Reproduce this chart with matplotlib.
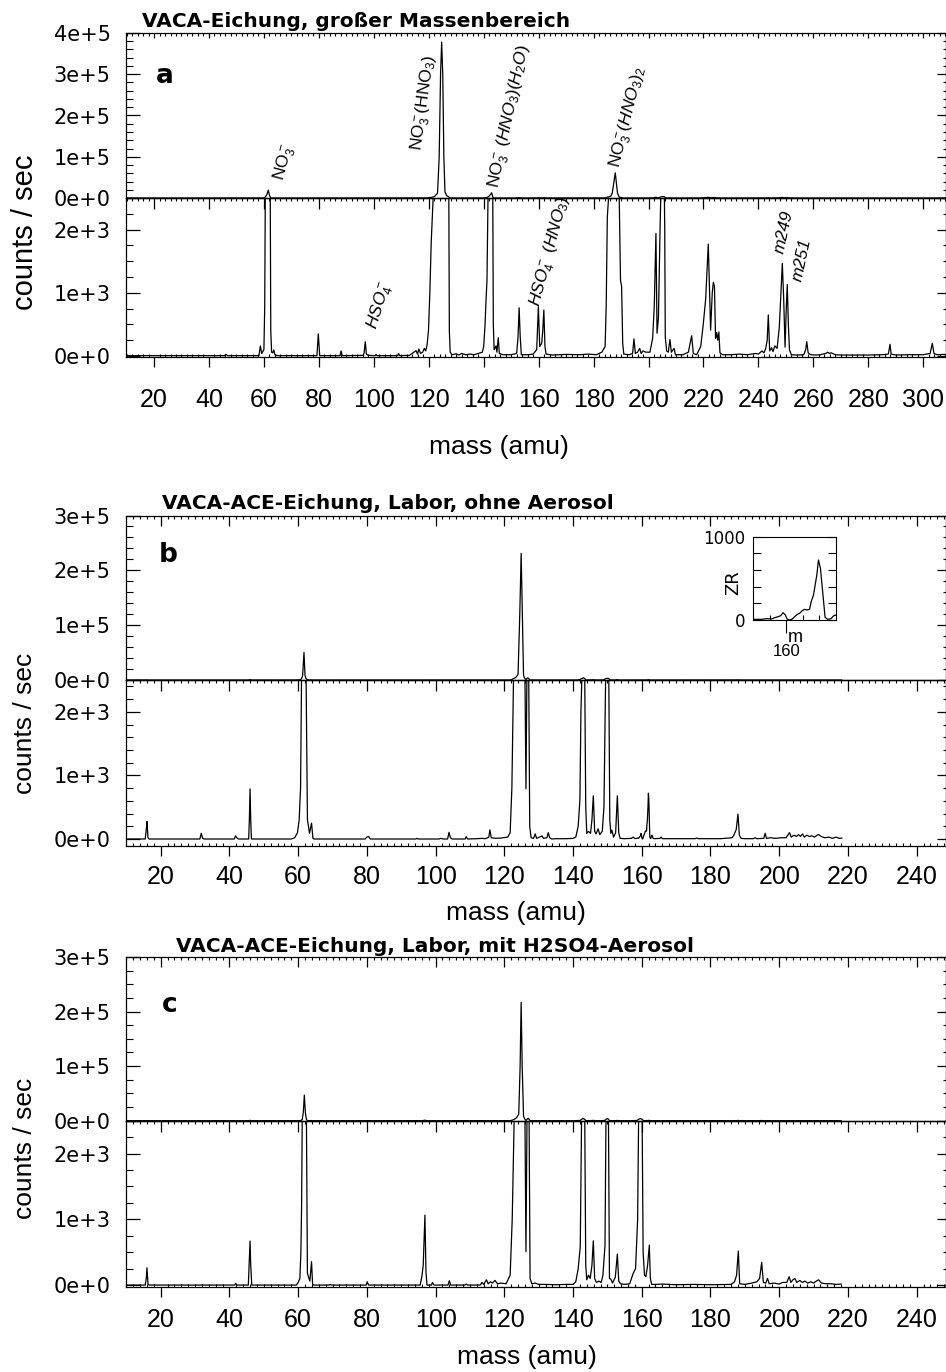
import numpy as np
import matplotlib
matplotlib.use('Agg')
import matplotlib.pyplot as plt
from matplotlib.ticker import MultipleLocator, FixedLocator, FuncFormatter, NullFormatter

plt.rcParams['font.family'] = 'DejaVu Sans'
plt.rcParams['mathtext.fontset'] = 'custom'
plt.rcParams['mathtext.rm'] = 'Liberation Sans'
plt.rcParams['mathtext.it'] = 'Liberation Sans:italic'
plt.rcParams['mathtext.bf'] = 'Liberation Sans:bold'

# ---- spectra (mass in amu, counts / sec) ----
a_mass = [10, 45.6, 46.2, 46.8, 58.2, 58.7, 59.2, 60.0, 60.3, 60.5, 61.0, 61.6, 62.0, 62.3, 62.5, 62.8,
          63.2, 63.6, 64.0, 65, 79.3, 79.8, 80.3, 87.7, 88.1, 88.5, 96.2, 96.5, 96.9, 97.3, 98.0,
          100.5, 100.8, 101.2, 108.7, 109.0, 109.4, 113, 115.4, 115.9, 116.4, 117.0, 117.8, 118.4,
          118.9, 119.4, 119.9, 120.4, 120.9, 121.7, 122.3, 123.2, 123.8, 124.3, 124.7, 125.1, 125.5,
          125.9, 126.5, 127.3, 127.5, 127.8, 128.5, 130.0, 131.0, 132.0, 133.5, 135.0, 136.5, 138.0,
          139.5, 140.0, 140.5, 140.8, 141.2, 141.6, 142.2, 142.9, 143.3, 143.5, 143.8, 144.5, 144.8,
          145.3, 145.7, 147.0, 150.0, 152.0, 152.5, 152.9, 153.3, 153.7, 156.0, 158.0, 159.3, 159.9,
          160.4, 161.1, 161.5, 161.9, 162.3, 162.7, 165, 170, 175, 178, 181, 183, 184.2, 184.6,
          185.0, 185.6, 186.3, 186.8, 187.9, 188.7, 189.3, 189.8, 190.2, 190.6, 191.0, 193.0, 194.2,
          194.7, 195.2, 196.0, 196.8, 197.3, 198.0, 198.7, 199.3, 200.5, 201.5, 202.1, 202.7, 203.1,
          203.6, 204.2, 204.7, 205.2, 205.6, 205.9, 206.1, 206.6, 207.2, 207.8, 208.3, 209.3, 209.8,
          211, 212.5, 214.5, 215.7, 216.3, 217.5, 219.0, 219.9, 220.8, 221.75, 222.6, 223.2, 223.6,
          224.0, 224.4, 224.8, 225.2, 225.6, 226.0, 227, 230, 233, 236, 239, 240.0, 241.3, 242.0,
          242.6, 243.2, 243.6, 244.1, 244.8, 245.3, 246.0, 246.8, 247.6, 248.2, 248.7, 249.2, 249.7,
          250.1, 250.5, 250.9, 251.3, 252.0, 254, 256.5, 257.2, 257.6, 258.1, 259, 261, 262.5, 264.5,
          265.2, 265.8, 266.5, 268, 270, 275, 280, 285, 287.3, 287.9, 288.3, 290, 295, 300, 302.5,
          303.3, 303.9, 305, 307.5, 309]
a_counts = [5, 5, 25, 5, 5, 160, 40, 100, 800, 2600, 7000, 19000, 7000, 2600, 400, 60,
            50, 95, 20, 5, 5, 350, 5, 5, 80, 5, 10, 60, 226, 30, 10,
            5, 25, 5, 5, 40, 5, 10, 85, 30, 110, 40, 60, 120,
            80, 175, 400, 1000, 1800, 2600, 5000, 12000, 100000, 300000, 378000, 300000, 100000,
            15000, 6000, 2600, 400, 60, 20, 35, 15, 40, 20, 30, 20, 40,
            60, 150, 500, 830, 1200, 2600, 6000, 12800, 2600, 500, 100, 160, 60,
            290, 40, 20, 20, 40, 300, 763, 300, 20, 20, 30, 100, 780,
            150, 200, 400, 727, 150, 30, 15, 25, 20, 30, 20, 60, 150, 800,
            2200, 2600, 5000, 12000, 61000, 12000, 2600, 1200, 1100, 200, 30, 20, 40,
            270, 40, 60, 120, 40, 80, 65, 60, 60, 280, 800, 1940, 360,
            600, 2000, 3000, 3500, 3300, 2000, 300, 80, 60, 260, 60, 120, 20,
            20, 20, 60, 320, 40, 20, 150, 490, 900, 1770, 410, 1000, 1165,
            1100, 280, 370, 250, 380, 50, 20, 20, 30, 20, 40, 30, 80, 50,
            110, 250, 650, 80, 130, 70, 160, 120, 450, 1000, 1465, 900, 140,
            700, 1130, 500, 100, 20, 15, 20, 100, 227, 50, 20, 15, 20, 40,
            60, 40, 50, 20, 15, 15, 15, 20, 30, 185, 30, 15, 20, 20, 40,
            200, 40, 20, 25, 20]

b_mass = [10, 15.5, 15.8, 16.0, 16.3, 16.6, 31.4, 31.8, 32.2, 32.6, 41.4, 41.8, 42.3, 42.7, 45.6,
          45.8, 46.0, 46.2, 46.4, 58.0, 59.0, 59.8, 60.3, 60.7, 61.0, 61.3, 61.7, 62.0, 62.3, 62.7,
          63.3, 63.9, 64.3, 64.7, 79.5, 80.0, 80.5, 81.0, 94.3, 94.5, 95.0, 101.0, 101.5, 102.2,
          103.5, 103.9, 104.3, 104.8, 108.6, 108.9, 109.3, 112.0, 113.5, 114.5, 115.5, 115.8, 116.2,
          117.5, 119.0, 121.0, 121.7, 122.2, 122.7, 123.3, 124.0, 124.5, 124.9, 125.3, 125.6, 126.0,
          126.3, 126.6, 126.8, 127.1, 127.4, 127.8, 128.5, 129.0, 129.4, 131.0, 131.4, 132.4, 132.8,
          133.2, 133.8, 135.0, 138.0, 140.0, 140.8, 141.5, 142.0, 142.3, 142.6, 143.0, 143.4, 143.7,
          144.0, 144.5, 145.1, 145.5, 145.9, 146.3, 146.7, 147.3, 147.8, 148.5, 149.0, 149.5, 150.0,
          150.4, 150.7, 151.0, 151.3, 151.8, 152.4, 152.9, 153.3, 153.7, 155.0, 157.0, 157.5,
          158.0, 158.5, 158.8, 159.1, 159.3, 159.5, 159.66, 159.8, 159.94, 160.04, 160.2, 160.36,
          160.5, 160.66, 160.8, 160.96, 161.1, 161.24, 161.4, 161.5, 161.64, 161.76, 161.84, 161.94,
          162.06, 162.2, 162.34, 162.5, 162.7, 162.84, 162.96, 163.3, 163.8, 165.3, 165.6, 166.0,
          170, 175.5, 176.0, 176.5, 183.0, 186.3, 186.8, 187.5, 188.0, 188.4, 188.9, 190.0, 192.5,
          193.0, 193.5, 195.5, 195.9, 196.3, 197.5, 199.0, 200.5, 202.0, 203.0, 203.5, 204.3, 205.0,
          205.6, 206.2, 206.8, 207.3, 208.0, 208.8, 209.5, 210.3, 211.0, 211.5, 212.2, 213.3, 214.5,
          215.5, 216.5, 217.5, 218.2]
b_counts = [0, 0, 150, 275, 20, 0, 0, 90, 10, 0, 0, 48, 10, 0, 0,
            300, 788, 300, 0, 0, 20, 100, 300, 800, 2600, 8000, 50300, 8000, 2600, 310,
            90, 250, 10, 0, 0, 30, 40, 0, 0, 10, 0, 0, 10, 0,
            0, 105, 20, 0, 0, 37, 0, 5, 10, 5, 30, 143, 20,
            10, 15, 30, 100, 800, 2600, 4500, 10000, 120000, 231000, 100000, 8000, 2600,
            790, 2600, 4000, 2600, 200, 20, 10, 80, 10, 48, 10, 20, 100,
            20, 0, 5, 5, 10, 30, 200, 620, 2000, 2600, 4200, 2600, 500,
            90, 120, 90, 300, 680, 120, 80, 160, 70, 120, 500, 2600, 3000,
            2600, 300, 90, 140, 30, 100, 680, 100, 10, 5, 10, 30,
            8, 8, 16, 12, 28, 40, 52, 88, 60, 12, 0, 12,
            40, 68, 80, 112, 128, 120, 128, 220, 300, 440, 540, 720,
            620, 320, 32, 8, 16, 48, 60, 10, 5, 10, 30, 5,
            5, 5, 15, 5, 5, 20, 60, 150, 392, 60, 10, 5, 5,
            20, 5, 10, 90, 10, 20, 10, 20, 20, 100, 30, 60, 40,
            70, 40, 80, 30, 60, 40, 50, 30, 60, 70, 40, 20, 30,
            10, 30, 10, 15]

c_mass = [10, 15.5, 15.8, 16.0, 16.3, 16.6, 41.5, 41.8, 42.2, 45.5, 45.8, 46.0, 46.2, 46.5, 59.5,
          60.0, 60.5, 60.8, 61.0, 61.2, 61.5, 61.8, 62.1, 62.4, 62.7, 63.4, 63.9, 64.2, 64.5, 69.0,
          69.3, 69.7, 79.8, 80.1, 80.5, 95.5, 96.0, 96.4, 96.9, 97.2, 97.5, 98.8, 99.1, 99.5, 103.6,
          104.0, 104.4, 108.5, 108.9, 109.3, 113.0, 113.5, 114.0, 114.8, 115.3, 116.0, 116.5, 117.3,
          118.0, 119.0, 120.5, 121.7, 122.3, 122.9, 123.5, 124.2, 124.6, 124.9, 125.2, 125.6, 126.0,
          126.3, 126.6, 126.9, 127.2, 127.5, 128.0, 129.0, 130.0, 132.0, 135.0, 138.0, 140.0, 140.8,
          141.5, 142.1, 142.5, 142.9, 143.4, 143.7, 144.0, 144.5, 145.0, 145.5, 145.9, 146.3, 146.8,
          147.5, 148.2, 148.7, 149.3, 149.6, 150.0, 150.3, 150.6, 151.0, 151.5, 152.3, 152.9, 153.3,
          153.8, 155.0, 156.5, 157.5, 158.2, 158.8, 159.1, 159.6, 160.1, 160.4, 160.8, 161.2, 161.7,
          162.2, 162.5, 162.9, 164.0, 166.0, 170.0, 175.0, 180.0, 186.0, 187.0, 187.6, 188.1, 188.5,
          190.0, 192.0, 193.5, 194.3, 194.9, 195.4, 196.1, 196.6, 197.1, 198.5, 200.0, 201.0, 202.2,
          202.9, 203.4, 204.0, 204.6, 205.1, 206.0, 206.7, 207.5, 208.3, 209.2, 210.0, 210.8, 211.5,
          212.3, 213.5, 215.0, 216.5, 218.0]
c_counts = [0, 0, 100, 263, 20, 0, 0, 25, 0, 0, 400, 669, 300, 0, 0,
            40, 100, 500, 1190, 2600, 15000, 47000, 15000, 2600, 177, 60, 355, 10, 0, 0,
            10, 0, 0, 50, 0, 0, 127, 300, 1064, 200, 0, 0, 40, 0, 0,
            66, 0, 0, 15, 0, 0, 40, 10, 80, 20, 50, 30, 70,
            20, 30, 20, 150, 1000, 2600, 5000, 12000, 100000, 217000, 100000, 8000, 2600,
            507, 2600, 4500, 2600, 100, 20, 30, 10, 10, 5, 10, 10, 50,
            250, 580, 2600, 4000, 2600, 300, 80, 150, 100, 300, 673, 100, 40,
            60, 40, 150, 600, 2600, 4000, 2600, 100, 90, 30, 120, 471, 60,
            20, 10, 20, 177, 250, 1000, 2600, 4000, 2600, 500, 150, 127, 300,
            607, 100, 10, 10, 15, 5, 10, 5, 10, 50, 150, 517, 20,
            10, 30, 50, 100, 345, 40, 30, 100, 20, 30, 15, 40, 40,
            127, 40, 80, 100, 40, 70, 40, 60, 30, 50, 30, 60, 80,
            30, 20, 20, 10, 15]

titles = ['VACA-Eichung, großer Massenbereich',
          'VACA-ACE-Eichung, Labor, ohne Aerosol',
          'VACA-ACE-Eichung, Labor, mit H2SO4-Aerosol']
letters = ['a', 'b', 'c']

W, H = 946, 1372
LEFT, RIGHT = 126, 945.5

fig = plt.figure(figsize=(W / 100, H / 100), dpi=100)


def ftext(x, y, s, **kw):
    # place text at pixel position of the 946x1372 canvas
    return fig.text(x / W, 1 - y / H, s, **kw)


def sci_fmt(v, pos):
    if abs(v) < 1e-9:
        return '0e+0'
    e = int(np.floor(np.log10(abs(v)) + 1e-9))
    return '%de+%d' % (round(v / 10 ** e), e)


def make_panel(mass, counts, y_top, y_mid, y_bot, xlim, up_max, up_minor,
               lo_min, lo_minor, top_len, xpad):
    w = (RIGHT - LEFT) / W
    ax_up = fig.add_axes([LEFT / W, 1 - y_mid / H, w, (y_mid - y_top) / H])
    ax_lo = fig.add_axes([LEFT / W, 1 - y_bot / H, w, (y_bot - y_mid) / H])
    for ax in (ax_up, ax_lo):
        ax.set_facecolor('none')
        ax.plot(mass, counts, color='black', lw=0.9)
        ax.set_xlim(*xlim)
        ax.xaxis.set_major_locator(MultipleLocator(20))
        ax.xaxis.set_minor_locator(MultipleLocator(2))
        ax.yaxis.set_major_formatter(FuncFormatter(sci_fmt))
        for s in ax.spines.values():
            s.set_linewidth(0.9)
        ax.tick_params(axis='y', which='major', direction='in', length=10, width=0.9,
                       left=True, right=False, labelsize=15, pad=11)
        ax.tick_params(axis='y', which='minor', direction='in', length=5, width=0.8,
                       left=True, right=False)

    ax_up.set_ylim(0, up_max)
    ax_up.yaxis.set_major_locator(MultipleLocator(1e5))
    ax_up.yaxis.set_minor_locator(MultipleLocator(up_minor))
    ax_up.tick_params(axis='x', which='both', direction='in', bottom=False, top=True,
                      labelbottom=False, labeltop=False)
    ax_up.tick_params(axis='x', which='major', length=top_len, width=0.9)
    ax_up.tick_params(axis='x', which='minor', length=1.8, width=0.8)

    ax_lo.set_ylim(lo_min, 2500)
    ax_lo.yaxis.set_major_locator(MultipleLocator(1000))
    ax_lo.yaxis.set_minor_locator(MultipleLocator(lo_minor))
    ax_lo.tick_params(axis='x', which='major', direction='out', length=7, width=0.9,
                      top=False, labelsize=18, pad=xpad, labelfontfamily='Liberation Sans')
    ax_lo.tick_params(axis='x', which='minor', direction='in', length=2, width=0.8, top=False)

    # ticks on the boundary between the two parts
    sx = ax_lo.secondary_xaxis('top')
    sx.xaxis.set_major_locator(MultipleLocator(20))
    sx.xaxis.set_minor_locator(MultipleLocator(2))
    sx.xaxis.set_major_formatter(NullFormatter())
    sx.tick_params(which='major', direction='in', length=8, width=0.9)
    sx.tick_params(which='minor', direction='in', length=2, width=0.8)

    # shorter ticks on the right side
    for ax, major, minor in ((ax_up, 1e5, up_minor), (ax_lo, 1000, lo_minor)):
        sy = ax.secondary_yaxis('right')
        sy.yaxis.set_major_locator(MultipleLocator(major))
        sy.yaxis.set_minor_locator(MultipleLocator(minor))
        sy.yaxis.set_major_formatter(NullFormatter())
        sy.tick_params(which='major', direction='in', length=6.5, width=0.9)
        sy.tick_params(which='minor', direction='in', length=2, width=0.8)
    return ax_up, ax_lo


ax_a_up, ax_a_lo = make_panel(a_mass, a_counts, 33, 198, 357, (9.8, 308.1), 4e5, 2e4,
                              -16, 250, 3.6, 15)
ax_b_up, ax_b_lo = make_panel(b_mass, b_counts, 515.5, 680, 846, (9.9, 248.4), 3e5, 2e4,
                              -110, 200, 7, 7)
ax_c_up, ax_c_lo = make_panel(c_mass, c_counts, 957, 1120.7, 1286.7, (9.9, 248.4), 3e5, 2.5e4,
                              -25, 250, 7, 8)

# titles, panel letters, axis labels
for (x, y), t in zip([(356.5, 27), (387.5, 509.3), (435, 951.7)], titles):
    ftext(x, y, t, ha='center', va='baseline', fontsize=14.5, fontweight='bold')
for (x, y), l in zip([(165, 83.3), (168, 561.7), (170, 1011.7)], letters):
    ftext(x, y, l, ha='center', va='baseline', fontsize=19, fontweight='bold')
for (x, y), fs in zip([(25, 232.5), (25, 723), (25, 1148)], [21, 19, 19]):
    ftext(x, y, 'counts / sec', rotation=90, ha='center', va='center', fontsize=fs,
          family='Liberation Sans')
for x, y in [(499, 447), (516, 913), (527, 1357)]:
    ftext(x, y, 'mass (amu)', ha='center', va='center', fontsize=19, family='Liberation Sans')

# peak labels in panel a
kw = dict(ha='center', va='center', rotation_mode='anchor', fontsize=12.5,
          family='Liberation Sans')
ax_a_up.text(67.7, 84800, r'NO$_3^-$', rotation=75, **kw)
ax_a_up.text(118.6, 231000, r'NO$_3^-$(HNO$_3$)', rotation=82, **kw)
ax_a_up.text(149.6, 197000, r'NO$_3^-$ $\mathit{(HNO_3)(H_2O)}$', rotation=78, **kw)
ax_a_up.text(192.6, 195600, r'NO$_3^-$$\mathit{(HNO_3)_2}$', rotation=76, **kw)
ax_a_lo.text(102.5, 795, r'$\mathit{HSO_4^-}$', rotation=73, **kw)
ax_a_lo.text(164.4, 1648, r'$\mathit{HSO_4^-}$ $\mathit{(HNO_3)}$', rotation=75, **kw)
ax_a_lo.text(249.3, 1964, 'm249', rotation=78, style='italic', **kw)
ax_a_lo.text(255.7, 1517, 'm251', rotation=78, style='italic', **kw)

# inset in panel b: zoom on the m160 region
ax_in = fig.add_axes([753.3 / W, 1 - 620 / H, 82.7 / W, 83.3 / H])
ax_in.plot(b_mass, b_counts, color='black', lw=0.9)
ax_in.set_xlim(158, 163)
ax_in.set_ylim(0, 1000)
ax_in.xaxis.set_major_locator(FixedLocator([160]))
ax_in.xaxis.set_minor_locator(FixedLocator([159, 161, 162]))
ax_in.yaxis.set_major_locator(FixedLocator([0, 1000]))
ax_in.yaxis.set_minor_locator(FixedLocator([200, 400, 600, 800]))
for s in ax_in.spines.values():
    s.set_linewidth(0.8)
ax_in.tick_params(axis='x', which='major', direction='out', length=9.5, width=0.8, pad=8,
                  labelsize=12, labelfontfamily='Liberation Sans')
ax_in.tick_params(axis='x', which='minor', direction='in', length=3.5, width=0.8)
ax_in.tick_params(axis='y', which='both', direction='in', length=6, width=0.8,
                  left=True, right=True, labelsize=12, pad=6)
ftext(795, 641.7, 'm', ha='center', va='baseline', fontsize=13, family='Liberation Sans')
ftext(733, 583, 'ZR', rotation=90, ha='center', va='center', fontsize=13)

fig.savefig('out.png', dpi=100)
